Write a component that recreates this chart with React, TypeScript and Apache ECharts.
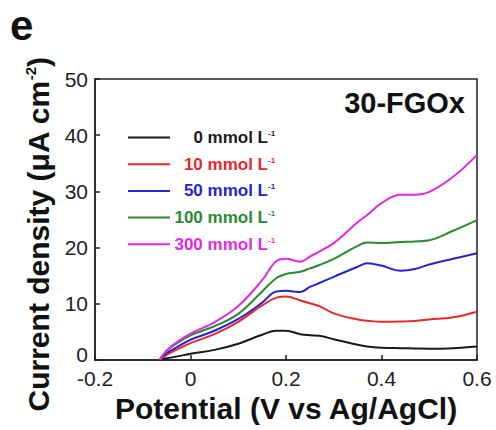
import React, { useEffect, useRef } from "react";
import * as echarts from "echarts";

const potentials = [-0.065, -0.05, -0.03, 0, 0.05, 0.1, 0.15, 0.18, 0.2, 0.23, 0.25, 0.27, 0.3, 0.35, 0.37, 0.4, 0.44, 0.47, 0.5, 0.55, 0.6];

const s0 = [0, 0.3, 0.6, 1.1, 1.8, 2.9, 4.5, 5.2, 5.2, 4.6, 4.4, 4.3, 3.7, 2.7, 2.4, 2.2, 2.1, 2.05, 2.0, 2.1, 2.4];
const s10 = [0, 0.9, 1.8, 3.0, 4.6, 6.8, 9.7, 11.1, 11.3, 10.6, 10.1, 9.6, 8.3, 7.2, 7.0, 6.8, 6.85, 6.95, 7.2, 7.6, 8.6];
const s50 = [0, 1.2, 2.2, 3.6, 5.2, 7.3, 10.2, 12.2, 12.3, 12.1, 13.0, 13.7, 14.8, 16.6, 17.2, 16.8, 15.9, 16.2, 17.0, 18.0, 19.0];
const s100 = [0, 1.6, 2.9, 4.4, 6.0, 8.2, 12.2, 14.6, 15.3, 15.7, 16.3, 16.9, 18.0, 20.3, 20.9, 20.8, 21.0, 21.1, 21.3, 23.0, 24.9];
const s300 = [0, 1.7, 3.1, 4.7, 6.7, 9.6, 14.2, 17.6, 18.0, 17.5, 18.4, 19.3, 20.8, 24.5, 25.8, 27.9, 29.4, 29.4, 29.9, 32.6, 36.5];

const seriesNames = ["0 mmol L", "10 mmol L", "50 mmol L", "100 mmol L", "300 mmol L"];
const seriesValues = [s0, s10, s50, s100, s300];
const seriesColors = ["#1a1a1a", "#e8262b", "#2424d0", "#2a8a30", "#e22ae2"];

const xTicks = { min: -0.2, max: 0.6, interval: 0.2 };
const yTicks = { min: 0, max: 50, interval: 10 };

const FONT = "'Liberation Sans', Arial, sans-serif";

export default function App() {
  const ref = useRef<HTMLDivElement>(null);
  useEffect(() => {
    document.body.style.margin = "0";
    if (!ref.current) return;
    const chart = echarts.init(ref.current, null, { renderer: "svg" });
    const series = seriesNames.map((name, i) => ({
      name,
      type: "line",
      smooth: 0.4,
      symbol: "none",
      data: potentials.map((p, j) => [p, seriesValues[i][j]]),
      lineStyle: { color: seriesColors[i], width: 2 },
      itemStyle: { color: seriesColors[i] },
    }));
    chart.setOption({
      animation: false,
      backgroundColor: "#fff",
      grid: { left: 95, right: 19, top: 79, bottom: 70, show: true, borderColor: "#222", borderWidth: 1.5, backgroundColor: "transparent" },
      xAxis: {
        type: "value",
        min: xTicks.min,
        max: xTicks.max,
        interval: xTicks.interval,
        name: "Potential (V vs Ag/AgCl)",
        nameLocation: "middle",
        nameGap: 32,
        nameTextStyle: { fontFamily: FONT, fontSize: 30, fontWeight: "bold", color: "#111" },
        axisLine: { onZero: false, lineStyle: { color: "#222", width: 1.5 } },
        axisTick: { inside: true, length: 5, lineStyle: { color: "#222", width: 1.5 } },
        axisLabel: { fontFamily: FONT, fontSize: 21, color: "#222", margin: 8, lineHeight: 20 },
        splitLine: { show: false },
      },
      yAxis: {
        type: "value",
        min: yTicks.min,
        max: yTicks.max,
        interval: yTicks.interval,
        name: "{a|Current density (μA cm}{s|-2}{a|)}",
        nameLocation: "middle",
        nameGap: 38,
        nameTextStyle: {
          fontFamily: FONT,
          fontSize: 30,
          fontWeight: "bold",
          color: "#111",
          padding: [0, 30, 0, 0],
          rich: {
            a: { fontFamily: FONT, fontSize: 30, fontWeight: "bold", color: "#111", lineHeight: 32 },
            s: { fontFamily: FONT, fontSize: 15, fontWeight: "bold", color: "#111", verticalAlign: "top", lineHeight: 32 },
          },
        },
        axisLine: { onZero: false, lineStyle: { color: "#222", width: 1.5 } },
        axisTick: { inside: true, length: 5, lineStyle: { color: "#222", width: 1.5 } },
        axisLabel: {
          fontFamily: FONT,
          fontSize: 21,
          color: "#222",
          margin: 7,
          lineHeight: 16,
          formatter: (v: number) => (v === 0 ? "{z|0}" : String(v)),
          rich: { z: { fontFamily: FONT, fontSize: 21, color: "#222", lineHeight: 16, padding: [0, 0, 12, 0] } },
        },
        splitLine: { show: false },
      },
      legend: {
        orient: "vertical",
        left: 123,
        top: 124,
        icon: "rect",
        itemWidth: 42,
        itemHeight: 2,
        itemGap: 9.7,
        selectedMode: false,
        data: seriesNames.map((n, i) => ({ name: n, textStyle: { color: seriesColors[i] } })),
        formatter: (n: string) => `{t|${n}}{s|-1}`,
        textStyle: {
          fontFamily: FONT,
          fontWeight: "bold",
          fontSize: 17,
          rich: {
            t: { fontFamily: FONT, fontWeight: "bold", fontSize: 17, width: 93, align: "right", lineHeight: 16 },
            s: { fontFamily: FONT, fontWeight: "bold", fontSize: 8, align: "right", verticalAlign: "top", lineHeight: 16 },
          },
        },
      },
      graphic: [
        {
          type: "text",
          x: 10,
          y: 25,
          style: { text: "e", fontFamily: FONT, fontSize: 42, fontWeight: "bold", fill: "#111", align: "left", verticalAlign: "middle" },
        },
        {
          type: "text",
          x: 465,
          y: 103,
          style: { text: "30-FGOx", fontFamily: FONT, fontSize: 29, fontWeight: "bold", fill: "#111", align: "right", verticalAlign: "middle" },
        },
      ],
      series,
    });
    return () => chart.dispose();
  }, []);
  return <div ref={ref} style={{ position: "absolute", left: 0, top: 0, width: 496, height: 430 }} />;
}
